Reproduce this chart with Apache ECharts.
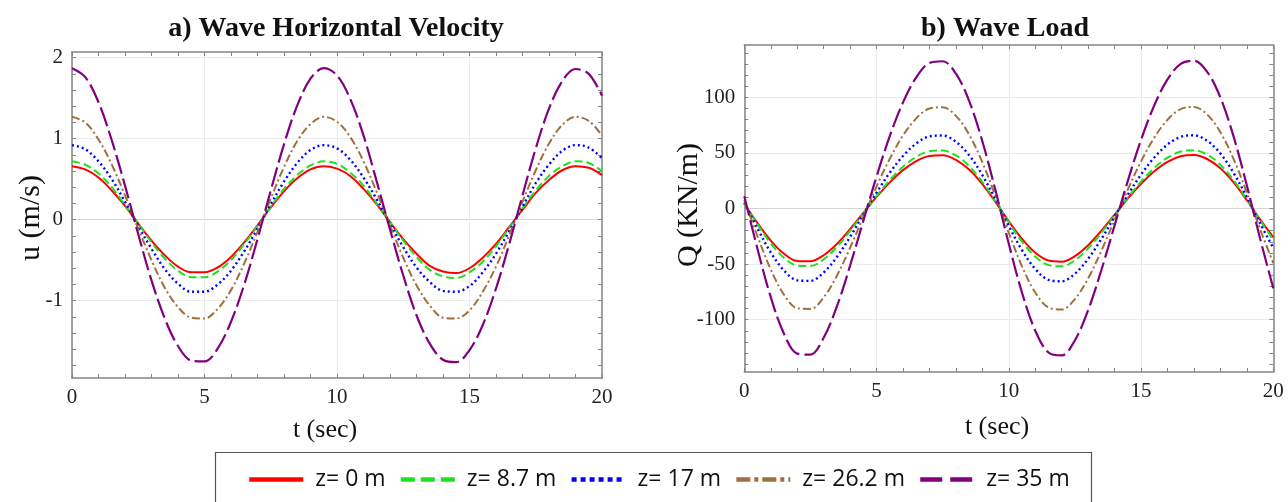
<!DOCTYPE html>
<html><head><meta charset="utf-8">
<script src="https://cdn.jsdelivr.net/npm/echarts@6/dist/echarts.min.js"></script>
<style>html,body{margin:0;padding:0;background:#fff}#c{width:1288px;height:502px}</style>
</head><body><div id="c"></div>
<script>
// ---- data ----
const times = [0,0.5,1,1.5,2,2.5,3,3.5,4,4.5,5,5.5,6,6.5,7,7.5,8,8.5,9,9.5,10,10.5,11,11.5,12,12.5,13,13.5,14,14.5,15,15.5,16,16.5,17,17.5,18,18.5,19,19.5,20];
const seriesNames = ['z= 0 m','z= 8.7 m','z= 17 m','z= 26.2 m','z= 35 m'];

// a) wave horizontal velocity u (m/s)
const uZ0    = [0.66,0.62,0.52,0.36,0.17,-0.05,-0.26,-0.44,-0.58,-0.65,-0.65,-0.59,-0.46,-0.28,-0.07,0.15,0.35,0.51,0.62,0.66,0.63,0.54,0.38,0.19,-0.03,-0.24,-0.42,-0.57,-0.64,-0.66,-0.60,-0.47,-0.30,-0.09,0.12,0.33,0.49,0.61,0.66,0.64,0.55];
const uZ8_7  = [0.72,0.68,0.57,0.40,0.18,-0.05,-0.28,-0.48,-0.63,-0.71,-0.71,-0.64,-0.50,-0.30,-0.08,0.16,0.38,0.55,0.67,0.72,0.69,0.58,0.42,0.20,-0.03,-0.26,-0.46,-0.62,-0.70,-0.72,-0.65,-0.52,-0.33,-0.10,0.14,0.36,0.54,0.66,0.72,0.70,0.60];
const uZ17   = [0.92,0.87,0.72,0.50,0.22,-0.08,-0.36,-0.61,-0.79,-0.89,-0.89,-0.80,-0.63,-0.39,-0.11,0.19,0.47,0.70,0.86,0.92,0.88,0.74,0.52,0.25,-0.05,-0.34,-0.59,-0.77,-0.88,-0.89,-0.82,-0.65,-0.42,-0.14,0.16,0.45,0.68,0.85,0.92,0.89,0.76];
const uZ26_2 = [1.27,1.20,0.99,0.68,0.30,-0.11,-0.50,-0.84,-1.08,-1.21,-1.22,-1.10,-0.87,-0.54,-0.15,0.26,0.65,0.97,1.18,1.27,1.21,1.02,0.72,0.34,-0.07,-0.47,-0.81,-1.06,-1.21,-1.22,-1.12,-0.89,-0.58,-0.19,0.22,0.61,0.94,1.17,1.27,1.22,1.04];
const uZ35   = [1.87,1.76,1.45,0.98,0.42,-0.18,-0.75,-1.22,-1.56,-1.74,-1.75,-1.59,-1.26,-0.80,-0.24,0.36,0.93,1.41,1.74,1.87,1.78,1.49,1.04,0.47,-0.12,-0.69,-1.18,-1.53,-1.73,-1.76,-1.61,-1.30,-0.85,-0.30,0.30,0.88,1.37,1.71,1.86,1.80,1.53];

// b) wave load Q (KN/m)
const qZ0    = [4.0,-13.2,-28.8,-40.7,-47.2,-47.5,-42.0,-31.9,-18.6,-4.0,10.4,23.5,34.5,42.7,47.3,47.9,43.8,35.0,21.9,5.7,-11.5,-27.4,-39.8,-46.8,-47.8,-42.8,-33.0,-20.0,-5.5,9.0,22.3,33.5,42.0,47.0,48.1,44.5,36.1,23.4,7.4,-9.8,-25.9];
const qZ8_7  = [4.4,-14.3,-31.3,-44.3,-51.3,-51.7,-45.7,-34.6,-20.2,-4.4,11.3,25.6,37.5,46.4,51.5,52.1,47.7,38.1,23.8,6.2,-12.5,-29.8,-43.2,-50.9,-52.0,-46.6,-35.9,-21.8,-6.0,9.8,24.3,36.5,45.7,51.2,52.3,48.4,39.3,25.4,8.1,-10.6,-28.2];
const qZ17   = [5.5,-18.0,-39.5,-55.7,-64.6,-65.1,-57.6,-43.6,-25.5,-5.5,14.3,32.2,47.2,58.4,64.8,65.6,60.0,47.9,30.0,7.9,-15.7,-37.5,-54.4,-64.1,-65.4,-58.6,-45.2,-27.4,-7.5,12.3,30.5,45.9,57.5,64.4,65.8,60.9,49.4,32.0,10.2,-13.4,-35.5];
const qZ26_2 = [7.7,-25.0,-54.8,-77.4,-89.7,-90.3,-79.9,-60.5,-35.3,-7.6,19.8,44.7,65.6,81.0,89.9,91.0,83.3,66.5,41.6,10.9,-21.8,-52.0,-75.5,-89.0,-90.8,-81.4,-62.8,-38.0,-10.4,17.1,42.4,63.7,79.8,89.4,91.3,84.5,68.6,44.4,14.2,-18.5,-49.2];
const qZ35   = [11.1,-36.4,-79.7,-112.6,-130.5,-131.4,-116.2,-88.1,-51.4,-11.1,28.8,65.1,95.4,117.9,130.9,132.4,121.2,96.8,60.5,15.9,-31.7,-75.7,-109.9,-129.5,-132.1,-118.4,-91.4,-55.3,-15.2,24.9,61.7,92.7,116.1,130.0,132.8,122.9,99.8,64.6,20.6,-27.0,-71.7];

const xTickLabels = [0,5,10,15,20];
const uTickLabels = [-1,0,1,2];
const qTickLabels = [-100,-50,0,50,100];

// ---- styles ----
const colors = ['#ff0000','#1fe21f','#0000ff','#a0703c','#800080'];
const plotDash = ['solid',[8,4],[2,3],[8,3,2,3],[20,5]];
const plotWidth = [2,2,2.4,2,2.2];
const legendDash = ['solid',[14,6],[5,4],[14,4,4,4],[22,8]];

const SERIF = '"Liberation Serif", "Times New Roman", serif';
const FRAME = '#858585';
const GRIDC = '#ebebeb';

function isIn(list, v){ return list.some(x => Math.abs(x - v) < 1e-6); }

const chart = echarts.init(document.getElementById('c'), null, {renderer:'canvas'});

const grids = [
  {left:72, top:52, width:530, height:326},          // 0 L data/frame
  {left:72, top:57.7, width:530, height:307.8},      // 1 L ticks (-1.8..2.0)
  {left:72, top:57.7, width:530, height:243},        // 2 L split (-1..2)
  {left:744.3, top:45, width:529, height:327},       // 3 R data/frame
  {left:744.3, top:52.8, width:529, height:311.4},   // 4 R ticks (-140..140)
  {left:744.3, top:97.3, width:529, height:222.4}    // 5 R split (-100..100)
];

function xMain(gi, pos){
  const bottom = pos === 'bottom';
  return {
    type:'value', gridIndex:gi, position:pos, min:0, max:20, interval:5,
    axisLine:{show:true, onZero:false, lineStyle:{color:FRAME, width:1.5}},
    axisTick:{show:true, inside:true, length:4, lineStyle:{color:FRAME}},
    minorTick:{show:true, splitNumber:5, length:4, lineStyle:{color:FRAME}},
    axisLabel:{show:bottom, margin:9, fontFamily:SERIF, fontSize:21, color:'#222',
      formatter:v => isIn(xTickLabels, v) ? String(Math.round(v)) : ''},
    splitLine:{show:bottom, lineStyle:{color:GRIDC, width:1}},
    minorSplitLine:{show:false}
  };
}
function xHidden(gi){ return {type:'value', gridIndex:gi, min:0, max:20, show:false}; }
function yFrame(gi, pos, mn, mx){
  return {type:'value', gridIndex:gi, position:pos, min:mn, max:mx,
    axisLine:{show:true, onZero:false, lineStyle:{color:FRAME, width:1.5}},
    axisTick:{show:false}, axisLabel:{show:false}, splitLine:{show:false}};
}
function yTicks(gi, pos, mn, mx, iv, labels){
  return {type:'value', gridIndex:gi, position:pos, min:mn, max:mx, interval:iv,
    axisLine:{show:false, onZero:false},
    axisTick:{show:true, inside:true, length:4, lineStyle:{color:FRAME}},
    axisLabel:{show:!!labels, margin:9, fontFamily:SERIF, fontSize:21, color:'#222',
      formatter:v => (labels && isIn(labels, v)) ? String(Math.round(v)) : ''},
    splitLine:{show:false}};
}
function ySplit(gi, mn, mx, iv, cols){
  return {type:'value', gridIndex:gi, min:mn, max:mx, interval:iv,
    axisLine:{show:false}, axisTick:{show:false}, axisLabel:{show:false},
    splitLine:{show:true, lineStyle:{color:cols, width:1}}};
}

const xAxes = [xMain(0,'bottom'), xMain(0,'top'), xHidden(1), xHidden(2),
               xMain(3,'bottom'), xMain(3,'top'), xHidden(4), xHidden(5)];
const yAxes = [
  yFrame(0,'left',-1.955,2.07), yFrame(0,'right',-1.955,2.07),
  yTicks(1,'left',-1.8,2.0,0.2,uTickLabels), yTicks(1,'right',-1.8,2.0,0.2,null),
  ySplit(2,-1,2,1,[GRIDC,'#d6d6d6',GRIDC,GRIDC]),
  yFrame(3,'left',-147,147), yFrame(3,'right',-147,147),
  yTicks(4,'left',-140,140,10,qTickLabels), yTicks(4,'right',-140,140,10,null),
  ySplit(5,-100,100,50,[GRIDC,GRIDC,'#d6d6d6',GRIDC,GRIDC])
];

const uData = [uZ0,uZ8_7,uZ17,uZ26_2,uZ35];
const qData = [qZ0,qZ8_7,qZ17,qZ26_2,qZ35];
const series = [];
function addSeries(arrs, xi, yi){
  arrs.forEach((arr, i) => {
    series.push({
      name:seriesNames[i], type:'line', xAxisIndex:xi, yAxisIndex:yi,
      data:times.map((t,k) => [t, arr[k]]),
      smooth:0.35, symbol:'none', showSymbol:false, z:3+i,
      lineStyle:{color:colors[i], width:plotWidth[i], type:plotDash[i], cap:'butt'},
      itemStyle:{color:colors[i]}
    });
  });
}
addSeries(uData, 0, 0);
addSeries(qData, 4, 5);

chart.setOption({
  animation:false,
  backgroundColor:'#ffffff',
  title:[
    {text:'a) Wave Horizontal Velocity', left:331, top:10, textAlign:'center',
     textStyle:{fontFamily:SERIF, fontWeight:'bold', fontSize:28, color:'#111'}},
    {text:'b) Wave Load', left:1000, top:10, textAlign:'center',
     textStyle:{fontFamily:SERIF, fontWeight:'bold', fontSize:28, color:'#111'}}
  ],
  grid:grids,
  xAxis:xAxes,
  yAxis:yAxes,
  legend:{
    show:true, type:'plain', orient:'horizontal',
    left:242, top:463, itemWidth:54, itemHeight:14, itemGap:13,
    textStyle:{fontFamily:'"Open Sans", sans-serif', fontSize:23, color:'#111', padding:[0,0,0,7]},
    data:seriesNames.map((n,i) => ({name:n,
      itemStyle:{opacity:0, borderWidth:0},
      lineStyle:{color:colors[i], width:4.5, type:legendDash[i], cap:'butt'}}))
  },
  graphic:[
    {type:'rect', shape:{x:215.5, y:452.5, width:876, height:70}, silent:true,
     style:{fill:'none', stroke:'#555', lineWidth:1.2}},
    {type:'text', x:325, y:430, silent:true,
     style:{text:'t (sec)', font:'26px ' + SERIF, textAlign:'center', textVerticalAlign:'middle', align:'center', verticalAlign:'middle', fill:'#111'}},
    {type:'text', x:997, y:427, silent:true,
     style:{text:'t (sec)', font:'26px ' + SERIF, textAlign:'center', textVerticalAlign:'middle', align:'center', verticalAlign:'middle', fill:'#111'}},
    {type:'text', x:31, y:218, rotation:Math.PI/2, silent:true,
     style:{text:'u (m/s)', font:'30px ' + SERIF, textAlign:'center', textVerticalAlign:'middle', align:'center', verticalAlign:'middle', fill:'#111'}},
    {type:'text', x:689, y:205, rotation:Math.PI/2, silent:true,
     style:{text:'Q (KN/m)', font:'30px ' + SERIF, textAlign:'center', textVerticalAlign:'middle', align:'center', verticalAlign:'middle', fill:'#111'}}
  ],
  series:series
});
</script>
</body></html>
